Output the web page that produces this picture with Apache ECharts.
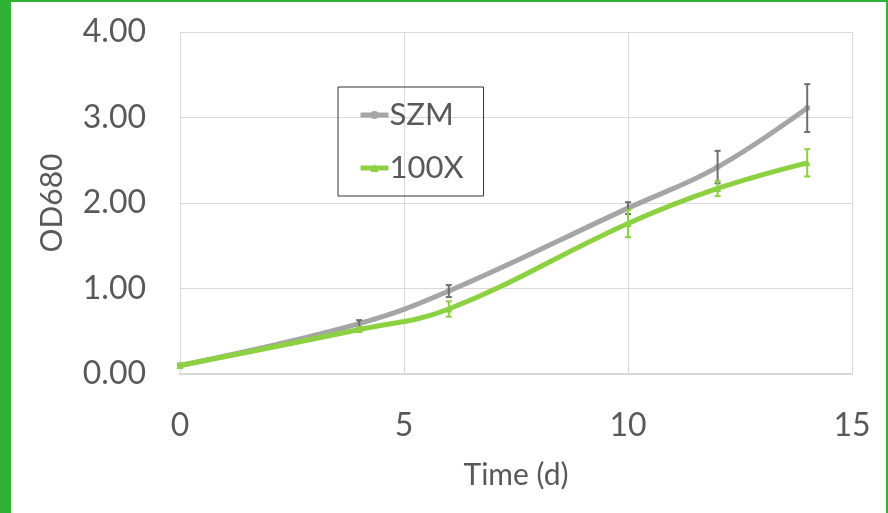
<!DOCTYPE html>
<html>
<head>
<meta charset="utf-8">
<script src="https://cdn.jsdelivr.net/npm/echarts@6/dist/echarts.min.js"></script>
<style>
  html, body { margin: 0; padding: 0; background: #fff; }
  .frame {
    width: 888px; height: 513px; box-sizing: border-box;
    border-left: 11px solid #2fb236; border-top: 2px solid #2fb236; border-right: 2px solid #2fb236;
  }
  #chart { width: 875px; height: 511px; }
</style>
</head>
<body>
<div class="frame"><div id="chart"></div></div>
<script>
// 数据
var days = [0, 4, 6, 10, 12, 14];
var szm = [0.10, 0.59, 0.97, 1.94, 2.42, 3.11];
var szmErr = [0.02, 0.04, 0.07, 0.07, 0.19, 0.28];
var x100 = [0.10, 0.52, 0.76, 1.76, 2.17, 2.47];
var x100Err = [0.02, 0.03, 0.09, 0.16, 0.09, 0.16];

var grayColor = "#a5a5a5";
var greenColor = "#8cd141";
var textColor = "#595959";
var font = "Lato";

function pairs(ys) {
  return days.map(function (d, i) { return [d, ys[i]]; });
}
function errData(ys, es) {
  return days.map(function (d, i) { return [d, ys[i] - es[i], ys[i] + es[i]]; });
}
function errSeries(ys, es, color) {
  return {
    type: "custom",
    data: errData(ys, es),
    z: 3,
    silent: true,
    renderItem: function (params, api) {
      var lo = api.coord([api.value(0), api.value(1)]);
      var hi = api.coord([api.value(0), api.value(2)]);
      var w = 3;
      var st = { stroke: color, lineWidth: 2 };
      return {
        type: "group",
        children: [
          { type: "line", shape: { x1: lo[0], y1: lo[1], x2: hi[0], y2: hi[1] }, style: st },
          { type: "line", shape: { x1: lo[0] - w, y1: lo[1], x2: lo[0] + w, y2: lo[1] }, style: st },
          { type: "line", shape: { x1: hi[0] - w, y1: hi[1], x2: hi[0] + w, y2: hi[1] }, style: st }
        ]
      };
    }
  };
}

var myChart = echarts.init(document.getElementById("chart"));
myChart.setOption({
  animation: false,
  grid: { left: 169, top: 30, right: 34, bottom: 139 },
  legend: {
    data: ["SZM", "100X"],
    orient: "vertical",
    left: 327,
    top: 85,
    padding: [10, 20, 10, 20],
    itemGap: 17,
    itemWidth: 28,
    itemHeight: 10,
    borderColor: "#333",
    borderWidth: 1,
    lineStyle: { width: 5 },
    textStyle: { color: textColor, fontFamily: font, fontSize: 31, lineHeight: 36, padding: [0, 0, 0, -4] }
  },
  xAxis: {
    type: "value",
    min: 0, max: 15, interval: 5,
    name: "Time (d)",
    nameLocation: "middle",
    nameGap: 86,
    nameTextStyle: { color: textColor, fontFamily: font, fontSize: 30 },
    axisLine: { lineStyle: { color: "#d9d9d9", width: 2 } },
    axisTick: { show: false },
    axisLabel: { color: textColor, fontFamily: font, fontSize: 32, margin: 36 },
    splitLine: { lineStyle: { color: "#d9d9d9", width: 1 } }
  },
  yAxis: {
    type: "value",
    min: 0, max: 4, interval: 1,
    name: "OD680",
    nameLocation: "middle",
    nameGap: 113,
    nameTextStyle: { color: textColor, fontFamily: font, fontSize: 30 },
    axisLine: { show: false },
    axisTick: { show: false },
    axisLabel: {
      color: textColor, fontFamily: font, fontSize: 32, margin: 34,
      formatter: function (v) { return v.toFixed(2); }
    },
    splitLine: { lineStyle: { color: "#d9d9d9", width: 1 } }
  },
  series: [
    {
      name: "SZM",
      type: "line",
      data: pairs(szm),
      smooth: 0.4,
      symbol: "circle",
      symbolSize: 6,
      z: 2,
      itemStyle: { color: grayColor },
      lineStyle: { color: grayColor, width: 5 }
    },
    errSeries(szm, szmErr, "#6f6f6f"),
    {
      name: "100X",
      type: "line",
      data: pairs(x100),
      smooth: 0.4,
      symbol: "triangle",
      symbolSize: 7,
      z: 4,
      itemStyle: { color: greenColor },
      lineStyle: { color: greenColor, width: 5 }
    },
    Object.assign(errSeries(x100, x100Err, greenColor), { z: 5 })
  ]
});
</script>
</body>
</html>
